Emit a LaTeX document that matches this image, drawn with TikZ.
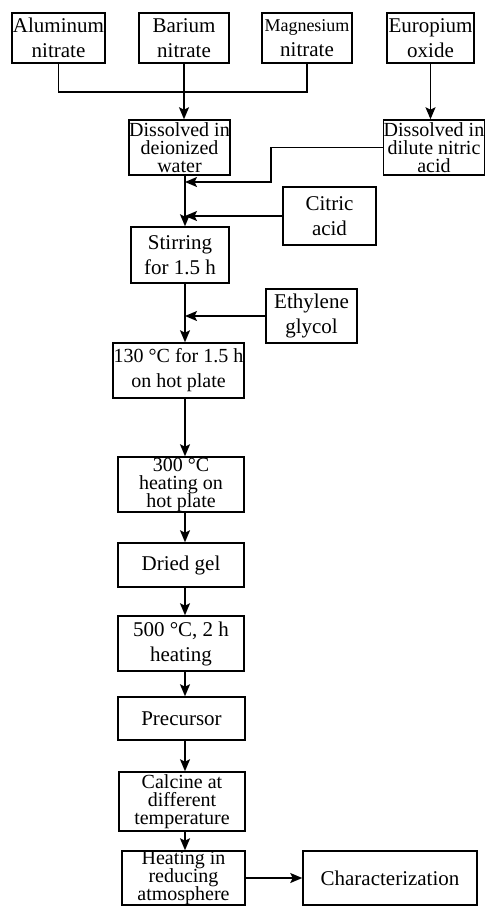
\documentclass[tikz,border=0pt]{standalone}
\usepackage{fontspec}
\setmainfont{Liberation Serif}
\usetikzlibrary{arrows.meta}
\newcommand\boxfont{\fontsize{10.5}{12.5}\selectfont\setlength\lineskiplimit{-5pt}}
\newcommand\tightfont{\fontsize{10}{9}\selectfont\setlength\lineskiplimit{-5pt}}
\tikzset{
  stepbox/.style={draw,line width=0.75pt,inner sep=0pt,align=center,font=\boxfont},
  tightbox/.style={stepbox,font=\tightfont},
  flow/.style={line width=0.75pt,-{Stealth[length=6pt,width=5pt,inset=1.2pt]}}
}
\begin{document}
\begin{tikzpicture}[x=0.5pt,y=-0.5pt]
\useasboundingbox (0,0) rectangle (485,906);
% raw materials
\node[stepbox,minimum width=46.5pt,minimum height=25pt] (alu) at (58.5,38) {Aluminum\\nitrate};
\node[stepbox,minimum width=45pt,minimum height=25pt] (bar) at (184,38) {Barium\\nitrate};
\node[stepbox,minimum width=45pt,minimum height=25pt] (mag) at (307,38) {{\fontsize{9}{12.5}\selectfont Magnesium}\\nitrate};
\node[stepbox,minimum width=43.5pt,minimum height=25pt] (eur) at (430.5,38) {Europium\\oxide};
\node[tightbox,minimum width=50.5pt,minimum height=27.5pt] (dis) at (179.5,147.5) {Dissolved in\\deionized\\water};
\node[tightbox,minimum width=50pt,minimum height=27.5pt] (dil) at (434,147.5) {Dissolved in\\dilute nitric\\acid};
\node[stepbox,minimum width=46.5pt,minimum height=29pt] (cit) at (329.5,216) {Citric\\acid};
\node[stepbox,minimum width=49pt,minimum height=28pt] (sti) at (180,255) {Stirring\\for 1.5 h};
\node[stepbox,minimum width=45.5pt,minimum height=27pt] (eth) at (311.5,316) {Ethylene\\glycol};
\node[stepbox,minimum width=65.5pt,minimum height=27.5pt,font=\fontsize{10}{12.5}\selectfont] (hot) at (178.5,370.5) {130 °C for 1.5 h\\on hot plate};
\node[tightbox,minimum width=63pt,minimum height=27.5pt] (h300) at (181,484.5) {300 °C\\heating on\\hot plate};
\node[stepbox,minimum width=63pt,minimum height=22pt] (gel) at (181,565) {Dried gel};
\node[stepbox,minimum width=63pt,minimum height=27.5pt] (h500) at (181,643.5) {500 °C, 2 h\\heating};
\node[stepbox,minimum width=63.5pt,minimum height=21.5pt] (pre) at (181.5,718.5) {Precursor};
\node[tightbox,minimum width=63pt,minimum height=29.5pt] (cal) at (182,801.5) {Calcine at\\different\\temperature};
\node[tightbox,minimum width=61.5pt,minimum height=27pt] (red) at (183.5,878) {Heating in\\reducing\\atmosphere};
\node[stepbox,minimum width=87pt,minimum height=27pt] (cha) at (390,878) {Characterization};
% connectors
\coordinate (spine) at (185,0);
\coordinate (mix) at (184,92);
\coordinate (bend) at (271,182);
\draw[line width=0.75pt] (alu.south) |- (mix) -| (mag.south);
\draw[flow] (bar.south) -- (dis.north -| bar.south);
\draw[flow] (eur.south) -- (dil.north -| eur.south);
\draw[flow] (dil.west) -| (bend) -- (bend -| spine);
\draw[flow] (cit.west) -- (cit.west -| spine);
\draw[flow] (dis.south -| spine) -- (sti.north -| spine);
\draw[flow] (eth.west) -- (eth.west -| spine);
\foreach \a/\b in {sti/hot,hot/h300,h300/gel,gel/h500,h500/pre,pre/cal,cal/red}
  \draw[flow] (\a.south -| spine) -- (\b.north -| spine);
\draw[flow] (red.east) -- (cha.west);
\end{tikzpicture}
\end{document}
